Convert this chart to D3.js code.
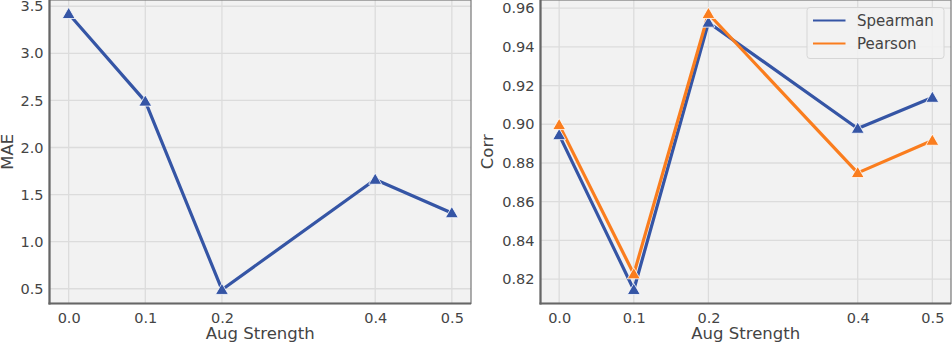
<!DOCTYPE html>
<html>
<head>
<meta charset="utf-8">
<style>
  body { margin: 0; background: #fff; font-family: "DejaVu Sans", sans-serif; }
  .tick text { fill: #444; font-size: 14.5px; font-family: "DejaVu Sans", sans-serif; }
  .grid line { stroke: #dcdcdc; stroke-width: 1.3; }
  .axis_title { fill: #444; font-size: 16.5px; font-family: "DejaVu Sans", sans-serif; }
</style>
</head>
<body>
<script src="https://d3js.org/d3.v7.min.js"></script>
<script>
var augStrength = [0.0, 0.1, 0.2, 0.4, 0.5];
var xTicks = ["0.0", "0.1", "0.2", "0.4", "0.5"];
var mae = [3.42, 2.49, 0.49, 1.66, 1.305];
var spearman = [0.8945, 0.8145, 0.9526, 0.8978, 0.9138];
var pearson = [0.8997, 0.8226, 0.9571, 0.8749, 0.8916];
var maeTicks = [0.5, 1.0, 1.5, 2.0, 2.5, 3.0, 3.5];
var corrTicks = [0.82, 0.84, 0.86, 0.88, 0.90, 0.92, 0.94, 0.96];

var blue = "#3555a5", orange = "#fa7d1e";

var svg = d3.select("body").append("svg")
    .attr("width", 952)
    .attr("height", 344);

function panel(opts) {
  var left = opts.left, right = opts.right, top = 0, bottom = 303.5;

  var x = d3.scaleLinear().domain([-0.025, 0.525]).range([left, right]);
  var y = d3.scaleLinear().domain(opts.yDomain).range([bottom, top]);

  var g = svg.append("g");

  g.append("rect")
    .attr("x", left).attr("y", top)
    .attr("width", right - left).attr("height", bottom - top)
    .attr("fill", "#f2f2f2");

  // grid
  var grid = g.append("g").attr("class", "grid");
  grid.selectAll("line.v").data(augStrength).enter().append("line")
    .attr("x1", function(d) { return x(d); }).attr("x2", function(d) { return x(d); })
    .attr("y1", top).attr("y2", bottom);
  grid.selectAll("line.h").data(opts.yTicks).enter().append("line")
    .attr("x1", left).attr("x2", right)
    .attr("y1", function(d) { return y(d); }).attr("y2", function(d) { return y(d); });

  // frame
  g.append("rect")
    .attr("x", left).attr("y", top)
    .attr("width", right - left).attr("height", bottom - top)
    .attr("fill", "none").attr("stroke", "#777").attr("stroke-width", 1.2);
  g.append("line").attr("x1", left).attr("x2", left).attr("y1", top).attr("y2", bottom + 1)
    .attr("stroke", "#666").attr("stroke-width", 2.2);
  g.append("line").attr("x1", left - 1).attr("x2", right).attr("y1", bottom).attr("y2", bottom)
    .attr("stroke", "#666").attr("stroke-width", 2.2);

  // axes
  var xAxis = d3.axisBottom(x).tickValues(augStrength)
    .tickFormat(function(d, i) { return xTicks[i]; })
    .tickSize(0).tickPadding(9);
  g.append("g").attr("transform", "translate(0," + bottom + ")").call(xAxis)
    .attr("font-family", null).attr("font-size", null)
    .call(function(a) { a.select(".domain").remove(); });

  var yAxis = d3.axisLeft(y).tickValues(opts.yTicks)
    .tickFormat(opts.fmt).tickSize(0).tickPadding(6);
  g.append("g").attr("transform", "translate(" + left + ",0)").call(yAxis)
    .attr("font-family", null).attr("font-size", null)
    .call(function(a) { a.select(".domain").remove(); });

  g.append("text").attr("class", "axis_title")
    .attr("x", (left + right) / 2).attr("y", 339)
    .attr("text-anchor", "middle")
    .text("Aug Strength");

  g.append("text").attr("class", "axis_title")
    .attr("transform", "translate(" + opts.yLabelX + "," + (bottom / 2) + ") rotate(-90)")
    .attr("text-anchor", "middle")
    .text(opts.yLabel);

  var line = d3.line()
    .x(function(d, i) { return x(augStrength[i]); })
    .y(function(d) { return y(d); });

  var tri = d3.symbol().type(d3.symbolTriangle).size(72);

  opts.series.forEach(function(s) {
    g.append("path").datum(s.values)
      .attr("d", line)
      .attr("fill", "none")
      .attr("stroke", s.color)
      .attr("stroke-width", 3.2)
      .attr("stroke-linejoin", "round");
  });
  opts.series.forEach(function(s) {
    g.selectAll(null).data(s.values).enter().append("path")
      .attr("d", tri)
      .attr("transform", function(d, i) {
        return "translate(" + x(augStrength[i]) + "," + (y(d) + 1) + ")";
      })
      .attr("fill", s.color)
      .attr("stroke", "#fff")
      .attr("stroke-width", 0.8);
  });

  return g;
}

panel({
  left: 49.5, right: 471,
  yDomain: [0.3435, 3.5665],
  yTicks: maeTicks,
  fmt: d3.format(".1f"),
  yLabel: "MAE", yLabelX: 13,
  series: [{ values: mae, color: blue }]
});

var right = panel({
  left: 540.5, right: 951,
  yDomain: [0.8074, 0.9642],
  yTicks: corrTicks,
  fmt: d3.format(".2f"),
  yLabel: "Corr", yLabelX: 493,
  series: [{ values: spearman, color: blue }, { values: pearson, color: orange }]
});

// legend
var legend = right.append("g");
legend.append("rect")
  .attr("x", 807).attr("y", 7.5).attr("width", 137).attr("height", 51)
  .attr("rx", 3)
  .attr("fill", "#f2f2f2").attr("fill-opacity", 0.85)
  .attr("stroke", "#d6d6d6").attr("stroke-width", 1);
var legendItems = [{ name: "Spearman", color: blue }, { name: "Pearson", color: orange }];
legendItems.forEach(function(d, i) {
  var cy = 20.5 + i * 23;
  legend.append("line")
    .attr("x1", 813).attr("x2", 845.5).attr("y1", cy).attr("y2", cy)
    .attr("stroke", d.color).attr("stroke-width", 2);
  legend.append("text")
    .attr("x", 857).attr("y", cy + 5.5)
    .attr("fill", "#444").attr("font-size", "15px")
    .attr("font-family", "DejaVu Sans, sans-serif")
    .text(d.name);
});
</script>
</body>
</html>
